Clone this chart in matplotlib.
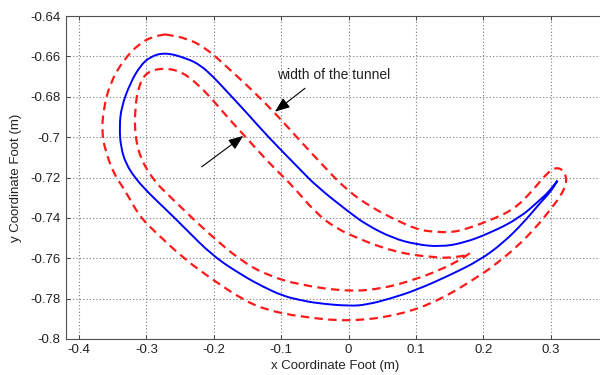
import matplotlib
matplotlib.use("Agg")
import matplotlib.pyplot as plt
from matplotlib.path import Path
from matplotlib.patches import PathPatch

plt.rcParams["font.family"] = ["Liberation Sans", "DejaVu Sans"]
plt.rcParams["axes.unicode_minus"] = False

# Foot trajectory (closed loop, starting and ending at the front tip)
foot_x = [0.310, 0.296, 0.284, 0.254, 0.210, 0.170, 0.136, 0.101, 0.066, 0.027,
          0.002, -0.047, -0.072, -0.119, -0.151, -0.176, -0.201, -0.220, -0.240,
          -0.272, -0.295, -0.310, -0.324, -0.337, -0.340, -0.338, -0.330, -0.316,
          -0.300, -0.280, -0.260, -0.245, -0.201, -0.156, -0.127, -0.097, -0.072,
          -0.047, 0.002, 0.027, 0.062, 0.101, 0.151, 0.195, 0.229, 0.259, 0.284,
          0.300, 0.310]
foot_y = [-0.7216, -0.7275, -0.7311, -0.7400, -0.7475, -0.7525, -0.7543, -0.7532,
          -0.7501, -0.7435, -0.7375, -0.7245, -0.7160, -0.7000, -0.6880, -0.6790,
          -0.6700, -0.6643, -0.6610, -0.6580, -0.6602, -0.6651, -0.6733, -0.6849,
          -0.6948, -0.7050, -0.7135, -0.7205, -0.7265, -0.7330, -0.7394, -0.7444,
          -0.7590, -0.7688, -0.7741, -0.7787, -0.7807, -0.7823, -0.7837, -0.7830,
          -0.7800, -0.7757, -0.7683, -0.7609, -0.7525, -0.7426, -0.7327, -0.7270,
          -0.7216]

# Outer boundary of the tunnel
outer_x = [-0.272, -0.240, -0.211, -0.181, -0.151, -0.112, -0.072, -0.038, -0.003,
           0.035, 0.070, 0.100, 0.121, 0.150, 0.170, 0.205, 0.245, 0.274, 0.294,
           0.309, 0.321, 0.324, 0.314, 0.299, 0.279, 0.250, 0.220, 0.200, 0.136,
           0.076, 0.002, -0.072, -0.122, -0.156, -0.201, -0.245, -0.285, -0.310,
           -0.332, -0.349, -0.361, -0.366, -0.364, -0.354, -0.334, -0.310, -0.290,
           -0.272]
outer_y = [-0.6491, -0.6510, -0.6560, -0.6651, -0.6742, -0.6870, -0.7018, -0.7140,
           -0.7262, -0.7350, -0.7410, -0.7455, -0.7468, -0.7472, -0.7460, -0.7419,
           -0.7360, -0.7262, -0.7179, -0.7147, -0.7171, -0.7229, -0.7295, -0.7361,
           -0.7444, -0.7543, -0.7625, -0.7675, -0.7807, -0.7881, -0.7914, -0.7890,
           -0.7856, -0.7807, -0.7708, -0.7600, -0.7476, -0.7394, -0.7262, -0.7179,
           -0.7064, -0.6981, -0.6866, -0.6733, -0.6618, -0.6535, -0.6502, -0.6491]

# Inner boundary of the tunnel
inner_x = [0.172, 0.146, 0.121, 0.096, 0.071, 0.047, 0.020, -0.020, -0.050, -0.082,
           -0.107, -0.122, -0.158, -0.176, -0.201, -0.220, -0.245, -0.272, -0.300,
           -0.312, -0.317, -0.317, -0.310, -0.290, -0.268, -0.240, -0.206, -0.161,
           -0.122, -0.072, 0.002, 0.052, 0.096, 0.136, 0.165, 0.180]
inner_y = [-0.7587, -0.7600, -0.7592, -0.7584, -0.7567, -0.7543, -0.7510, -0.7450,
           -0.7370, -0.7246, -0.7163, -0.7113, -0.6980, -0.6915, -0.6818, -0.6750,
           -0.6680, -0.6656, -0.6676, -0.6750, -0.6866, -0.6981, -0.7097, -0.7212,
           -0.7285, -0.7375, -0.7482, -0.7609, -0.7683, -0.7733, -0.7766, -0.7749,
           -0.7708, -0.7658, -0.7609, -0.7575]

x_ticks = [-0.4, -0.3, -0.2, -0.1, 0, 0.1, 0.2, 0.3]
x_ticklabels = ["-0.4", "-0.3", "-0.2", "-0.1", "0", "0.1", "0.2", "0.3"]
y_ticks = [-0.8, -0.78, -0.76, -0.74, -0.72, -0.7, -0.68, -0.66, -0.64]
y_ticklabels = ["-0.8", "-0.78", "-0.76", "-0.74", "-0.72", "-0.7", "-0.68", "-0.66", "-0.64"]


def smooth_path(xs, ys):
    """Quadratic Bezier path using the listed points as control points,
    passing through the midpoints between them (ends kept fixed)."""
    pts = list(zip(xs, ys))
    verts = [pts[0]]
    codes = [Path.MOVETO]
    mids = [((a[0] + b[0]) / 2, (a[1] + b[1]) / 2) for a, b in zip(pts[:-1], pts[1:])]
    verts.append(mids[0])
    codes.append(Path.LINETO)
    for i in range(1, len(pts) - 1):
        verts += [pts[i], mids[i]]
        codes += [Path.CURVE3, Path.CURVE3]
    verts.append(pts[-1])
    codes.append(Path.LINETO)
    return Path(verts, codes)


fig = plt.figure(figsize=(6, 3.75), dpi=100)
ax = fig.add_axes([0.1092, 0.096, 0.8985, 0.8613])

red = "#ff1a1a"
for xs, ys in [(outer_x, outer_y), (inner_x, inner_y)]:
    ax.add_patch(PathPatch(smooth_path(xs, ys), facecolor="none", edgecolor=red,
                           lw=1.6, linestyle=(0, (3.8, 2.4)), zorder=3))
ax.add_patch(PathPatch(smooth_path(foot_x, foot_y), facecolor="none",
                       edgecolor="#0000ff", lw=1.4, zorder=4))

ax.set_xlim(-0.42, 0.38)
ax.set_ylim(-0.8, -0.64)
ax.set_xticks(x_ticks)
ax.set_xticklabels(x_ticklabels)
ax.set_yticks(y_ticks)
ax.set_yticklabels(y_ticklabels)
ax.tick_params(direction="in", length=3, width=0.7, colors="#404040",
               labelcolor="#222222", labelsize=9.5, top=True, right=True)
ax.grid(True, color="#7a7a7a", linestyle=(0, (1, 2)), linewidth=0.8)
ax.set_axisbelow(True)
for s in ax.spines.values():
    s.set_color("#505050")
    s.set_linewidth(0.8)

ax.set_xlabel("x Coordinate Foot (m)", fontsize=9.5, color="#222222", labelpad=3)
ax.set_ylabel("y Coordinate Foot (m)", fontsize=9.5, color="#222222", labelpad=6)

ax.text(-0.106, -0.6692, "width of the tunnel", fontsize=10, color="#222222",
        ha="left", va="center")
arrow = dict(arrowstyle="-|>,head_length=0.9,head_width=0.35", color="black", lw=0.8,
             shrinkA=0, shrinkB=0)
ax.annotate("", xy=(-0.1092, -0.6874), xytext=(-0.0646, -0.6758), arrowprops=arrow)
ax.annotate("", xy=(-0.1562, -0.6994), xytext=(-0.2179, -0.7147), arrowprops=arrow)

fig.savefig("out.png", dpi=100)
